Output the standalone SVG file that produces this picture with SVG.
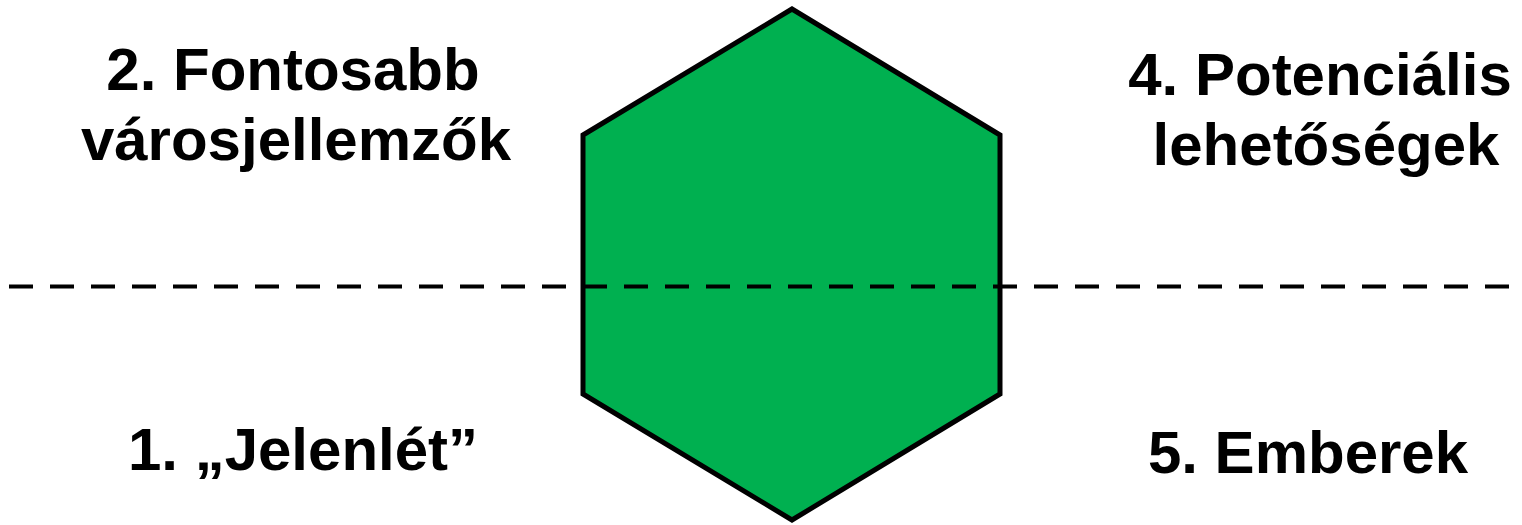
<svg xmlns="http://www.w3.org/2000/svg" width="1522" height="525" viewBox="0 0 1522 525">
<style>
.t{font-family:"Liberation Sans",Arial,sans-serif;font-weight:bold;font-size:60px;fill:#000;text-anchor:middle}
</style>
<rect width="1522" height="525" fill="#fff"/>
<g id="hexagon">
<polygon points="792,9 583,135 583,394 792,520 1000,394 1000,135" fill="#00B050" stroke="#000" stroke-width="5" stroke-linejoin="miter"/>
</g>
<g id="connectors">
<line x1="9" y1="286.5" x2="1510" y2="286.5" stroke="#000" stroke-width="4" stroke-dasharray="24,17"/>
</g>
<g id="node2">
<text class="t" x="293" y="90">2. Fontosabb</text>
<text class="t" x="296" y="160">városjellemzők</text>
</g>
<g id="node4">
<text class="t" x="1320" y="95">4. Potenciális</text>
<text class="t" x="1326" y="165">lehetőségek</text>
</g>
<g id="node1">
<text class="t" x="303" y="470">1. „Jelenlét”</text>
</g>
<g id="node5">
<text class="t" x="1308" y="473">5. Emberek</text>
</g>
</svg>
